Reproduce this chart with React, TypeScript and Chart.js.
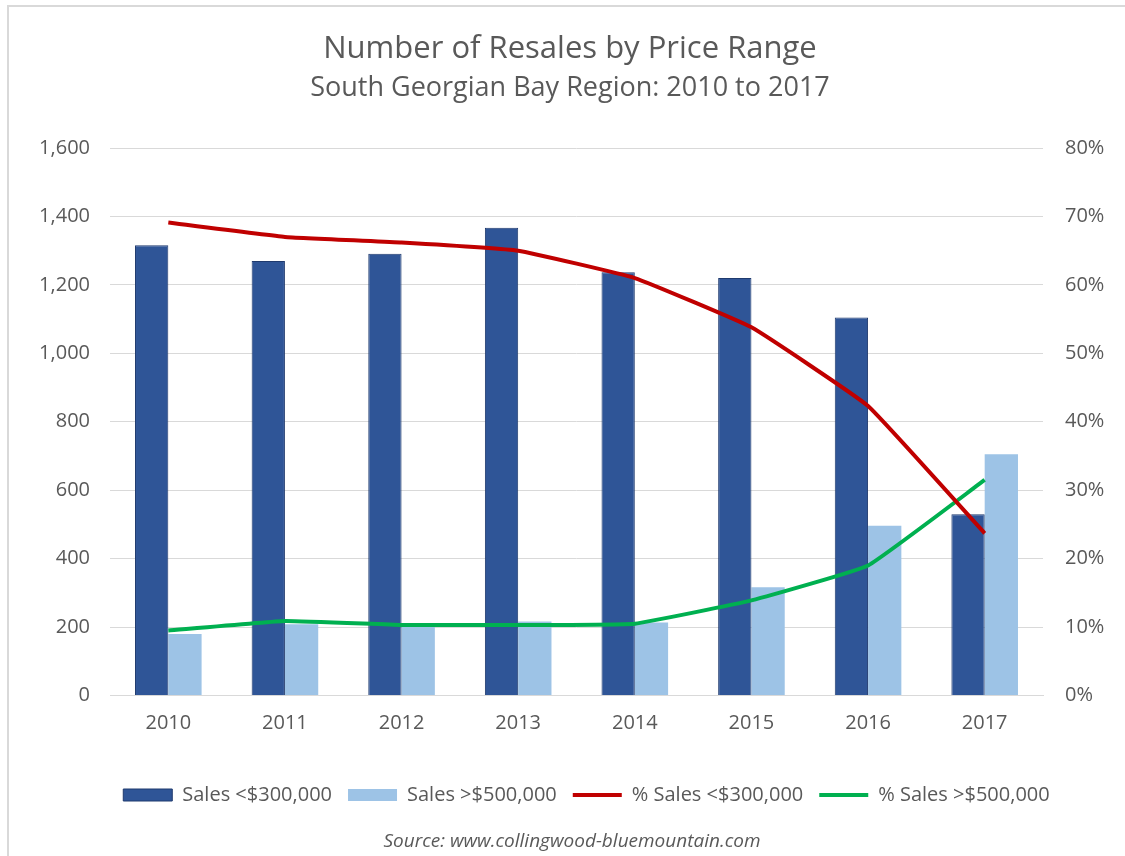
import React, { useEffect, useRef } from "react";
import { Chart, registerables } from "chart.js";

Chart.register(...registerables);

const years = ["2010", "2011", "2012", "2013", "2014", "2015", "2016", "2017"];
const salesUnder300k = [1316, 1270, 1291, 1367, 1237, 1220, 1105, 530];
const salesOver500k = [180, 208, 200, 216, 213, 316, 496, 705];
const pctUnder300k = [69.1, 67.0, 66.2, 65.0, 61.0, 53.8, 42.3, 23.7];
const pctOver500k = [9.5, 10.9, 10.3, 10.3, 10.5, 13.9, 19.0, 31.5];

const titleText = "Number of Resales by Price Range";
const subtitleText = "South Georgian Bay Region: 2010 to 2017";
const sourceText = "Source: www.collingwood-bluemountain.com";

const TEXT = "#595959";
const FONT = '"Open Sans", "DejaVu Sans", sans-serif';

const decorPlugin = {
  id: "decor",
  afterLayout(chart: any) {
    const lg = chart.legend;
    if (lg) {
      lg.left += 14;
      lg.right += 14;
    }
  },
  beforeDraw(chart: any) {
    const ctx = chart.ctx;
    ctx.save();
    ctx.fillStyle = "#ffffff";
    ctx.fillRect(0, 0, chart.width, chart.height);
    ctx.strokeStyle = "#D9D9D9";
    ctx.lineWidth = 2;
    ctx.beginPath();
    ctx.moveTo(8, chart.height);
    ctx.lineTo(8, 6);
    ctx.lineTo(chart.width, 6);
    ctx.stroke();
    ctx.restore();
  },
  afterDraw(chart: any) {
    const ctx = chart.ctx;
    ctx.save();
    ctx.fillStyle = TEXT;
    ctx.textAlign = "center";
    ctx.textBaseline = "middle";
    ctx.font = `31px ${FONT}`;
    ctx.fillText(titleText, 570, 49);
    ctx.font = `27px ${FONT}`;
    ctx.fillText(subtitleText, 570, 88);
    ctx.font = `italic 19px ${FONT}`;
    ctx.fillText(sourceText, 572, 842);
    ctx.restore();
  },
};

export default function App() {
  const ref = useRef<HTMLCanvasElement | null>(null);

  useEffect(() => {
    if (!ref.current) return;
    Chart.defaults.font.family = FONT;
    Chart.defaults.color = TEXT;
    const chart = new Chart(ref.current, {
      type: "bar",
      data: {
        labels: years,
        datasets: [
          {
            type: "bar",
            label: "Sales <$300,000",
            data: salesUnder300k,
            backgroundColor: "#2F5597",
            borderColor: "#1F3A6E",
            borderWidth: 1,
            yAxisID: "y",
            order: 2,
            pointStyle: "rect",
            barPercentage: 1,
            categoryPercentage: 0.571,
          },
          {
            type: "bar",
            label: "Sales >$500,000",
            data: salesOver500k,
            backgroundColor: "#9DC3E6",
            borderColor: "#9DC3E6",
            borderWidth: 0,
            yAxisID: "y",
            order: 2,
            pointStyle: "rect",
            barPercentage: 1,
            categoryPercentage: 0.571,
          },
          {
            type: "line",
            label: "% Sales <$300,000",
            data: pctUnder300k,
            borderColor: "#C00000",
            backgroundColor: "#C00000",
            borderWidth: 4,
            pointRadius: 0,
            pointStyle: "line",
            tension: 0.1,
            yAxisID: "y1",
            order: 1,
          },
          {
            type: "line",
            label: "% Sales >$500,000",
            data: pctOver500k,
            borderColor: "#00B050",
            backgroundColor: "#00B050",
            borderWidth: 4,
            pointRadius: 0,
            pointStyle: "line",
            tension: 0.1,
            yAxisID: "y1",
            order: 1,
          },
        ],
      },
      options: {
        responsive: false,
        animation: false,
        locale: "en-US",
        layout: { padding: { top: 148, left: 20, right: 0, bottom: 41 } },
        plugins: {
          title: { display: false },
          tooltip: { enabled: false },
          legend: {
            position: "bottom",
            labels: {
              usePointStyle: true,
              pointStyleWidth: 49,
              boxWidth: 49,
              boxHeight: 12,
              padding: 16,
              color: TEXT,
              font: { size: 20 },
              sort: (a: any, b: any) => a.datasetIndex - b.datasetIndex,
            },
          },
        },
        scales: {
          x: {
            grid: { display: false, drawTicks: false },
            border: { display: true, color: "#D9D9D9", width: 1 },
            ticks: { color: TEXT, font: { size: 20 }, padding: 16 },
            afterFit: (s: any) => {
              s.height = 73.5;
            },
          },
          y: {
            position: "left",
            min: 0,
            max: 1600,
            ticks: { stepSize: 200, color: TEXT, font: { size: 20 }, padding: 20 },
            grid: { color: "#D9D9D9", lineWidth: 1, drawTicks: false },
            border: { display: false },
            afterFit: (s: any) => {
              s.width = 90;
            },
          },
          y1: {
            position: "right",
            min: 0,
            max: 80,
            ticks: {
              stepSize: 10,
              color: TEXT,
              font: { size: 20 },
              padding: 22,
              callback: (v: any) => `${v}%`,
            },
            grid: { drawOnChartArea: false, drawTicks: false },
            border: { display: false },
            afterFit: (s: any) => {
              s.width = 82;
            },
          },
        },
      },
      plugins: [decorPlugin],
    } as any);
    return () => chart.destroy();
  }, []);

  return (
    <div style={{ position: "fixed", left: 0, top: 0, width: 1125, height: 856, background: "#fff" }}>
      <canvas ref={ref} width={1125} height={856} style={{ width: 1125, height: 856 }} />
    </div>
  );
}
